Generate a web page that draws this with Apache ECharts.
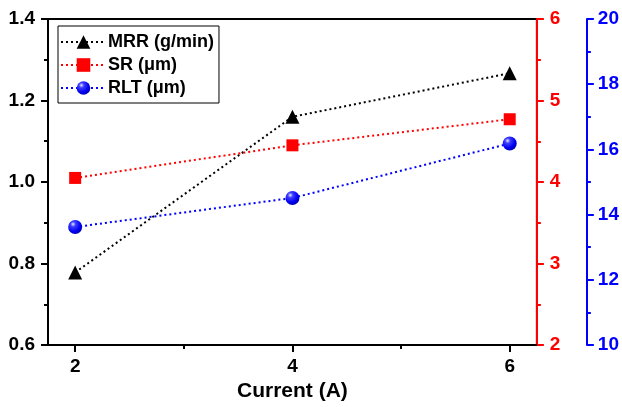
<!DOCTYPE html>
<html>
<head>
<meta charset="utf-8">
<script src="https://cdn.jsdelivr.net/npm/echarts@6/dist/echarts.min.js"></script>
<style>
  html, body { margin: 0; padding: 0; background: #fff; }
  #chart { width: 622px; height: 407px; }
</style>
</head>
<body>
<div id="chart"></div>
<script>
// Current settings (A)
const currents = [2, 4, 6];
// Material removal rate (g/min) – left axis
const mrr = [0.778, 1.160, 1.267];
// Surface roughness (µm) – red right axis
const sr = [4.05, 4.45, 4.77];
// Recast layer thickness (µm) – blue outer right axis
const rlt = [13.62, 14.51, 16.18];

const xTickValues = [2, 4, 6];
const xMinorValues = [3, 5];

const FONT = '"Liberation Sans", Arial, sans-serif';

const pair = (ys) => currents.map((x, i) => [x, ys[i]]);

const sphere = new echarts.graphic.RadialGradient(0.35, 0.3, 0.75, [
  { offset: 0, color: '#e8e8ff' },
  { offset: 0.25, color: '#3c3cff' },
  { offset: 0.7, color: '#0000f0' },
  { offset: 1, color: '#0000b0' }
]);

const labelBase = { fontFamily: FONT, fontWeight: 'bold', fontSize: 19 };

const chart = echarts.init(document.getElementById('chart'), null, { renderer: 'canvas' });

chart.setOption({
  animation: false,
  backgroundColor: '#fff',
  grid: {
    left: 48, top: 19, right: 85, bottom: 60,
    show: true, borderColor: '#000', borderWidth: 2, backgroundColor: 'transparent'
  },
  legend: {
    orient: 'vertical',
    left: 58, top: 26,
    padding: [7, 5, 6, 2],
    itemWidth: 45, itemHeight: 17, itemGap: 5,
    borderColor: '#000', borderWidth: 1,
    backgroundColor: '#fff',
    textStyle: { fontFamily: FONT, fontWeight: 'bold', fontSize: 18, color: '#000', padding: [0, 0, 0, -3] },
    data: ['MRR (g/min)', 'SR (μm)', 'RLT (μm)']
  },
  xAxis: [
    {
      type: 'value', min: 1.75, max: 6.25,
      name: 'Current (A)', nameLocation: 'middle', nameGap: 36,
      nameTextStyle: { fontFamily: FONT, fontWeight: 'bold', fontSize: 21, color: '#000' },
      axisLine: { show: true, lineStyle: { color: '#000', width: 2 } },
      axisTick: { show: true, length: 7, lineStyle: { width: 2, color: '#000' }, customValues: xTickValues },
      axisLabel: Object.assign({ color: '#000', margin: 12, customValues: xTickValues }, labelBase),
      splitLine: { show: false }
    },
    {
      type: 'value', min: 1.75, max: 6.25, position: 'bottom',
      axisLine: { show: false },
      axisTick: { show: true, length: 4, lineStyle: { width: 2, color: '#000' }, customValues: xMinorValues },
      axisLabel: { show: false },
      splitLine: { show: false }
    }
  ],
  yAxis: [
    {
      type: 'value', position: 'left', min: 0.6, max: 1.4, interval: 0.2,
      axisLine: { show: true, lineStyle: { color: '#000', width: 2 } },
      axisTick: { show: true, length: 7, lineStyle: { width: 2, color: '#000' } },
      minorTick: { show: true, splitNumber: 2, length: 4, lineStyle: { width: 2, color: '#000' } },
      axisLabel: Object.assign({ color: '#000', margin: 13, formatter: (v) => v.toFixed(1) }, labelBase),
      splitLine: { show: false }
    },
    {
      type: 'value', position: 'right', min: 2, max: 6, interval: 1,
      axisLine: { show: true, lineStyle: { color: '#ff0000', width: 2 } },
      axisTick: { show: true, length: 7, lineStyle: { width: 2, color: '#ff0000' } },
      minorTick: { show: true, splitNumber: 2, length: 4, lineStyle: { width: 2, color: '#ff0000' } },
      axisLabel: Object.assign({ color: '#ff0000', margin: 13 }, labelBase),
      splitLine: { show: false }
    },
    {
      type: 'value', position: 'right', offset: 50, min: 10, max: 20, interval: 2,
      axisLine: { show: true, lineStyle: { color: '#0000ff', width: 2 } },
      axisTick: { show: true, length: 7, lineStyle: { width: 2, color: '#0000ff' } },
      minorTick: { show: true, splitNumber: 2, length: 4, lineStyle: { width: 2, color: '#0000ff' } },
      axisLabel: Object.assign({ color: '#0000ff', margin: 11 }, labelBase),
      splitLine: { show: false }
    }
  ],
  series: [
    {
      name: 'MRR (g/min)', type: 'line', xAxisIndex: 0, yAxisIndex: 0,
      data: pair(mrr),
      symbol: 'triangle', symbolSize: 14,
      itemStyle: { color: '#000' },
      lineStyle: { color: '#000', width: 2, type: [2, 3] },
      z: 3
    },
    {
      name: 'SR (μm)', type: 'line', xAxisIndex: 0, yAxisIndex: 1,
      data: pair(sr),
      symbol: 'rect', symbolSize: 12,
      itemStyle: { color: '#ff0000' },
      lineStyle: { color: '#ff0000', width: 2, type: [2, 3] },
      z: 3
    },
    {
      name: 'RLT (μm)', type: 'line', xAxisIndex: 0, yAxisIndex: 2,
      data: pair(rlt),
      symbol: 'circle', symbolSize: 14,
      itemStyle: { color: sphere },
      lineStyle: { color: '#0000ff', width: 2, type: [2, 3] },
      z: 3
    }
  ]
});
</script>
</body>
</html>
